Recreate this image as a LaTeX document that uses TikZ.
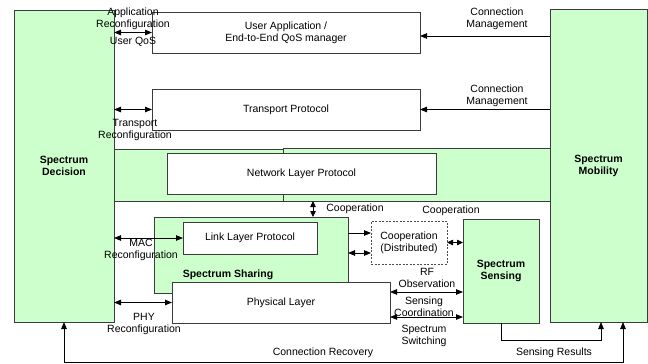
\documentclass[tikz,border=0pt]{standalone}
\usepackage{fontspec}
\setmainfont{Liberation Sans}
\usetikzlibrary{arrows.meta}
\definecolor{specgreen}{RGB}{204,255,204}
\definecolor{edgegray}{RGB}{60,60,60}
\newcommand{\figsize}{\fontsize{10.5pt}{12pt}\selectfont}
\tikzset{
  box/.style={draw=edgegray, line width=0.9pt, fill=white, inner sep=0pt, outer sep=0pt, align=center, font=\figsize},
  greenbox/.style={box, fill=specgreen, font=\figsize\bfseries},
  coopbox/.style={box, draw=black!70, dash pattern=on 2pt off 1.5pt},
  lbl/.style={font=\figsize, align=center, inner sep=0pt},
  boldlbl/.style={font=\figsize\bfseries, inner sep=0pt},
  arr/.style={-{Triangle[length=7pt,width=5.5pt]}, line width=0.8pt},
  darr/.style={{Triangle[length=7pt,width=5.5pt]}-{Triangle[length=7pt,width=5.5pt]}, line width=0.8pt},
  shortdarr/.style={{Triangle[length=6pt,width=5.5pt]}-{Triangle[length=6pt,width=5.5pt]}, line width=0.8pt},
}
\begin{document}
\begin{tikzpicture}[x=1pt, y=-1pt]
  \useasboundingbox (0,0) rectangle (648,364);

  \node[greenbox, minimum width=100pt, minimum height=312pt] (decision) at (64,166) {Spectrum\\Decision};
  \node[greenbox, minimum width=97pt, minimum height=313pt] (mobility) at (598.5,165.5) {Spectrum\\Mobility};
  \node[box, minimum width=268pt, minimum height=41pt] (userapp) at (286,32.5) {User Application /\\End-to-End QoS manager};
  \node[box, minimum width=268pt, minimum height=41pt] (transport) at (286,109.5) {Transport Protocol};
  \node[greenbox, minimum width=169pt, minimum height=52pt] (bandL) at (198.5,175) {};
  \node[greenbox, minimum width=267pt, minimum height=53pt] (bandR) at (416.5,174.5) {};
  \node[box, minimum width=269pt, minimum height=41pt] (network) at (301.5,173.5) {Network Layer Protocol};
  \node[greenbox, minimum width=194pt, minimum height=76pt] (sharing) at (251,255) {};
  \node[boldlbl] (sharingtxt) at (228,275) {Spectrum Sharing};
  \node[box, minimum width=134pt, minimum height=32pt] (link) at (250,238) {Link Layer Protocol};
  \node[box, minimum width=218pt, minimum height=41pt] (physical) at (281,302.5) {Physical Layer};
  \node[coopbox, minimum width=76pt, minimum height=43pt] (coop) at (409,242.5) {Cooperation\\(Distributed)};
  \node[greenbox, minimum width=76pt, minimum height=104pt] (sensing) at (501,271) {Spectrum\\Sensing};

  \node[lbl] (appcfg) at (133,18.5) {Application\\Reconfiguration};
  \node[lbl] (qos) at (133,42) {User QoS};
  \node[lbl] (transcfg) at (135,130) {Transport\\Reconfiguration};
  \node[lbl] (mgmtA) at (497,19) {Connection\\Management};
  \node[lbl] (mgmtB) at (497,95.5) {Connection\\Management};
  \node[lbl] (coopV) at (355,209) {Cooperation};
  \node[lbl] (maccfg) at (141,250) {MAC\\Reconfiguration};
  \node[lbl] (phycfg) at (144,324) {PHY\\Reconfiguration};
  \node[lbl] (coopH) at (451,211) {Cooperation};
  \node[lbl] (rfobs) at (427,278) {RF\\Observation};
  \node[lbl] (senscoord) at (424,307) {Sensing\\Coordination};
  \node[lbl] (specsw) at (424,335.5) {Spectrum\\Switching};
  \node[lbl] (recovery) at (323,353) {Connection Recovery};
  \node[lbl] (results) at (554,353) {Sensing Results};

  \draw[darr] (decision.east |- userapp.west) -- (userapp.west);
  \draw[darr] (decision.east |- transport.west) -- (transport.west);
  \draw[arr] ([yshift=-3.5pt]mobility.west |- userapp.east) -- ([yshift=-3.5pt]userapp.east);
  \draw[arr] (mobility.west |- transport.east) -- (transport.east);
  \draw[shortdarr] ([xshift=62pt]sharing.north) -- ([xshift=62pt]sharing.north |- bandR.south);
  \draw[darr] (decision.east |- link.west) -- (link.west);
  \draw[darr] (decision.east |- physical.west) -- (physical.west);
  \draw[arr] ([yshift=9.5pt]coop.west -| sharing.east) -- ([yshift=9.5pt]coop.west);
  \draw[darr] ([yshift=-10.5pt]coop.west -| sharing.east) -- ([yshift=-10.5pt]coop.west);
  \draw[shortdarr] (coop.east) -- (sensing.west |- coop.east);
  \draw[darr] ([yshift=10.5pt]physical.east) -- ([yshift=10.5pt]physical.east -| sensing.west);
  \draw[darr] ([yshift=-14.5pt]physical.east) -- ([yshift=-14.5pt]physical.east -| sensing.west);
  \draw[arr] (sensing.south) -- ++(0,17) -| ([xshift=2.5pt]mobility.south);
  \draw[darr] (decision.south) -- ++(0,40.5) -| ([xshift=24.5pt]mobility.south);
\end{tikzpicture}
\end{document}
